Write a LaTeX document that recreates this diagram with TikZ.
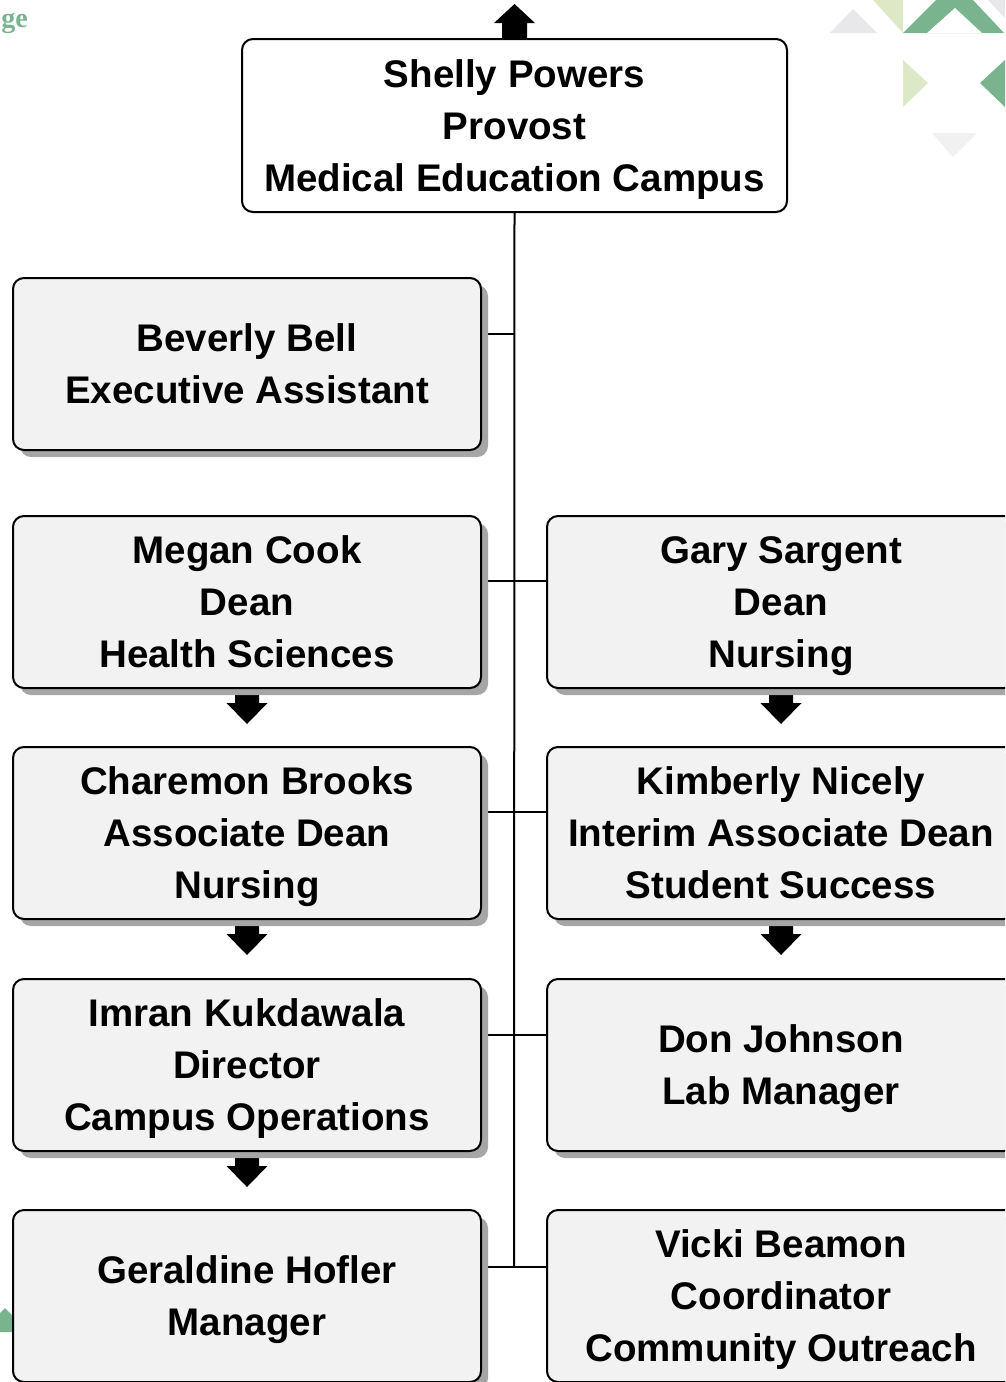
\documentclass[tikz,border=0pt]{standalone}
\usepackage{fontspec}
\setmainfont{Liberation Sans}
\newfontfamily\logofont{Liberation Serif}
\usetikzlibrary{shadows,calc,backgrounds}
\definecolor{cardfill}{HTML}{F2F2F2}
\definecolor{cardshadow}{HTML}{A6A6A6}
\definecolor{leafgreen}{HTML}{7AB48F}
\definecolor{palegreen}{HTML}{DDE9C6}
\definecolor{palegray}{HTML}{E8E8EA}
% riga senza discendenti (per centrare il testo come nell'originale)
\newcommand{\nodepth}[1]{\raisebox{0pt}[\height][0pt]{#1}}
\begin{document}
\begin{tikzpicture}[x=1pt,y=-1pt]
    % Stili per i nodi
    \tikzstyle{card}=[rectangle, draw, rounded corners=11pt, line width=2pt, fill=cardfill, minimum width=468pt, minimum height=172pt, align=center, font=\fontsize{38.5}{52}\selectfont\bfseries, drop shadow={shadow xshift=7pt, shadow yshift=-7pt, fill=cardshadow, opacity=1}]
    \tikzstyle{topcard}=[rectangle, draw, rounded corners=11pt, line width=2pt, fill=white, minimum width=545pt, minimum height=173pt, align=center, font=\fontsize{38.5}{52}\selectfont\bfseries]
    \tikzstyle{trunk}=[line width=2pt, black]
    \tikzstyle{link}=[line width=1.5pt, black]
    \tikzstyle{blockarrow}=[fill=black]

    \useasboundingbox (0,0) rectangle (1005,1382);
    \clip (0,0) rectangle (1005,1382);

    % Nodi
    \node[topcard] (provost) at (514.5,125.5) {Shelly Powers\\Provost\\\nodepth{Medical Education Campus}};

    \node[card] (bell) at (247,364) {Beverly Bell\\Executive Assistant};
    \node[card] (cook) at (247,602) {Megan Cook\\Dean\\Health Sciences};
    \node[card] (sargent) at (781,602) {Gary Sargent\\Dean\\\nodepth{Nursing}};
    \node[card] (brooks) at (247,833) {Charemon Brooks\\Associate Dean\\\nodepth{Nursing}};
    \node[card] (nicely) at (781,833) {Kimberly Nicely\\Interim Associate Dean\\Student Success};
    \node[card] (kukdawala) at (247,1065) {Imran Kukdawala\\Director\\\nodepth{Campus Operations}};
    \node[card] (johnson) at (781,1065) {Don Johnson\\\nodepth{Lab Manager}};
    \node[card] (hofler) at (247,1296) {Geraldine Hofler\\\nodepth{Manager}};
    \node[card] (beamon) at (781,1296) {Vicki Beamon\\Coordinator\\\nodepth{Community Outreach}};

    % Punti sul tronco
    \coordinate (j1) at (514,334);
    \coordinate (j2) at (514,581);
    \coordinate (j3) at (514,812);
    \coordinate (j4) at (514,1035);
    \coordinate (j5) at (514,1267);

    \begin{pgfonlayer}{background}
        % Decorazioni del logo
        \fill[palegray] (830,33) -- (853,9) -- (877,33) -- cycle;
        \fill[palegreen] (873,0) -- (903,0) -- (903,33) -- cycle;
        \fill[leafgreen] (903,33) -- (936,0) -- (973,0) -- (1004,33) -- cycle;
        \fill[white] (927,33) -- (955,8) -- (982,33) -- cycle;
        \fill[palegray] (988,0) -- (1005,0) -- (1005,18) -- cycle;
        \fill[palegreen] (903,60) -- (928,83) -- (903,107) -- cycle;
        \fill[leafgreen] (1005,60) -- (980,83) -- (1005,107) -- cycle;
        \fill[palegray!60] (932,133) -- (977,133) -- (953,157) -- cycle;
        \fill[leafgreen] (0,1332) -- (0,1313) -- (5,1308) -- (29,1332) -- cycle;
        \node[text=leafgreen, font=\logofont\fontsize{28}{28}\selectfont\bfseries, anchor=base east, inner sep=0] (logo) at (28,27) {ge};

        % Linee
        \draw[trunk] (provost.south) -- (j5);
        \draw[link] (j1) -- (bell.east |- j1);
        \draw[link] (j2) -- (cook.east |- j2);
        \draw[link] (j2) -- (sargent.west |- j2);
        \draw[link] (j3) -- (brooks.east |- j3);
        \draw[link] (j3) -- (nicely.west |- j3);
        \draw[link] (j4) -- (kukdawala.east |- j4);
        \draw[link] (j4) -- (johnson.west |- j4);
        \draw[link] (j5) -- (hofler.east |- j5);
        \draw[link] (j5) -- (beamon.west |- j5);

        % Frecce
        \fill[blockarrow] ($(provost.north)+(-12.5,2)$) -- ++(0,-17) -- ++(-8,0) -- ($(provost.north)+(0,-34)$) -- ($(provost.north)+(20.5,-15)$) -- ++(-8,0) -- ++(0,17) -- cycle;
        \foreach \b in {cook, sargent, brooks, nicely, kukdawala}
            \fill[blockarrow] ($(\b.south)+(-12,-2)$) -- ($(\b.south)+(-12,14)$) -- ($(\b.south)+(-20.5,14)$) -- ($(\b.south)+(0,35)$) -- ($(\b.south)+(20.5,14)$) -- ($(\b.south)+(12,14)$) -- ($(\b.south)+(12,-2)$) -- cycle;
    \end{pgfonlayer}
\end{tikzpicture}
\end{document}
